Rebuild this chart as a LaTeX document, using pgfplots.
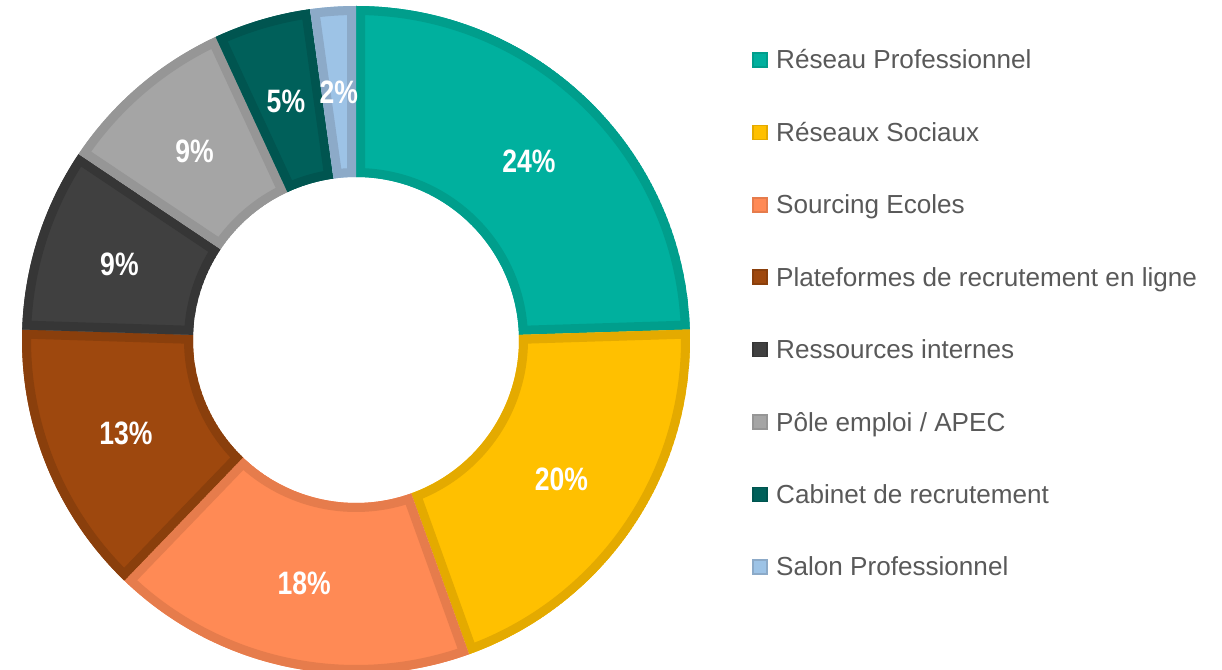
\documentclass[border=0pt]{standalone}
\usepackage{fontspec}
\setmainfont{Liberation Sans}
\usepackage{pgfplots}
\pgfplotsset{compat=1.18}
\usetikzlibrary{calc}

\definecolor{c1}{HTML}{00B09E}\definecolor{b1}{HTML}{009E8C}
\definecolor{c2}{HTML}{FFC000}\definecolor{b2}{HTML}{E4AA00}
\definecolor{c3}{HTML}{FF8A55}\definecolor{b3}{HTML}{E67C4C}
\definecolor{c4}{HTML}{9E480E}\definecolor{b4}{HTML}{8A3F0C}
\definecolor{c5}{HTML}{404040}\definecolor{b5}{HTML}{363636}
\definecolor{c6}{HTML}{A5A5A5}\definecolor{b6}{HTML}{969696}
\definecolor{c7}{HTML}{00605A}\definecolor{b7}{HTML}{005550}
\definecolor{c8}{HTML}{9DC3E6}\definecolor{b8}{HTML}{8CAAC8}
\definecolor{legtext}{HTML}{595959}

% ring between radius 163 and 334 (px = bp), from share #1 to #1+#2 (percent)
\newcommand\slicepath[2]{(C) ++({90-3.6*(#1)}:334bp)
  arc[start angle={90-3.6*(#1)}, end angle={90-3.6*(#1+#2)}, radius=334bp]
  -- ($(C)+({90-3.6*(#1+#2)}:163bp)$)
  arc[start angle={90-3.6*(#1+#2)}, end angle={90-3.6*(#1)}, radius=163bp] -- cycle}

% start, value, fill, border, label
\newcommand\slice[5]{%
  \begin{scope}
    \clip \slicepath{#1}{#2};
    \fill[#3, draw=#4, line width=18bp] \slicepath{#1}{#2};
  \end{scope}
  \node[text=white, font=\fontsize{32.5}{36}\selectfont\bfseries]
    at ($(C)+({90-3.6*(#1+#2/2)}:248.5bp)$) {\scalebox{0.82}[1]{#5}};
}

% legend row: index, fill, border, text
\newcommand\legrow[4]{%
  \fill[#2, draw=#3, line width=1.5bp]
    (axis cs:753,{670-53-72.4*#1}) rectangle (axis cs:767,{670-67-72.4*#1});
  \node[anchor=base west, inner sep=0pt, text=legtext,
        font=\fontsize{26.2}{30}\selectfont]
    at (axis cs:776,{670-69-72.4*#1}) {#4};
}

\begin{document}
\begin{tikzpicture}
\begin{axis}[
    scale only axis,
    width=1222bp, height=670bp,
    xmin=0, xmax=1222, ymin=0, ymax=670,
    hide axis,
]
\coordinate (C) at (axis cs:356,330);

\slice{0}{24.5}{c1}{b1}{24\%}
\slice{24.5}{20.0}{c2}{b2}{20\%}
\slice{44.5}{17.7}{c3}{b3}{18\%}
\slice{62.2}{13.3}{c4}{b4}{13\%}
\slice{75.5}{8.9}{c5}{b5}{9\%}
\slice{84.4}{8.7}{c6}{b6}{9\%}
\slice{93.1}{4.7}{c7}{b7}{5\%}
\slice{97.8}{2.2}{c8}{b8}{2\%}

\legrow{0}{c1}{b1}{Réseau Professionnel}
\legrow{1}{c2}{b2}{Réseaux Sociaux}
\legrow{2}{c3}{b3}{Sourcing Ecoles}
\legrow{3}{c4}{b4}{Plateformes de recrutement en ligne}
\legrow{4}{c5}{b5}{Ressources internes}
\legrow{5}{c6}{b6}{Pôle emploi / APEC}
\legrow{6}{c7}{b7}{Cabinet de recrutement}
\legrow{7}{c8}{b8}{Salon Professionnel}
\end{axis}
\pgfresetboundingbox
\path[use as bounding box] (0,0) rectangle (1222bp,670bp);
\end{tikzpicture}
\end{document}
